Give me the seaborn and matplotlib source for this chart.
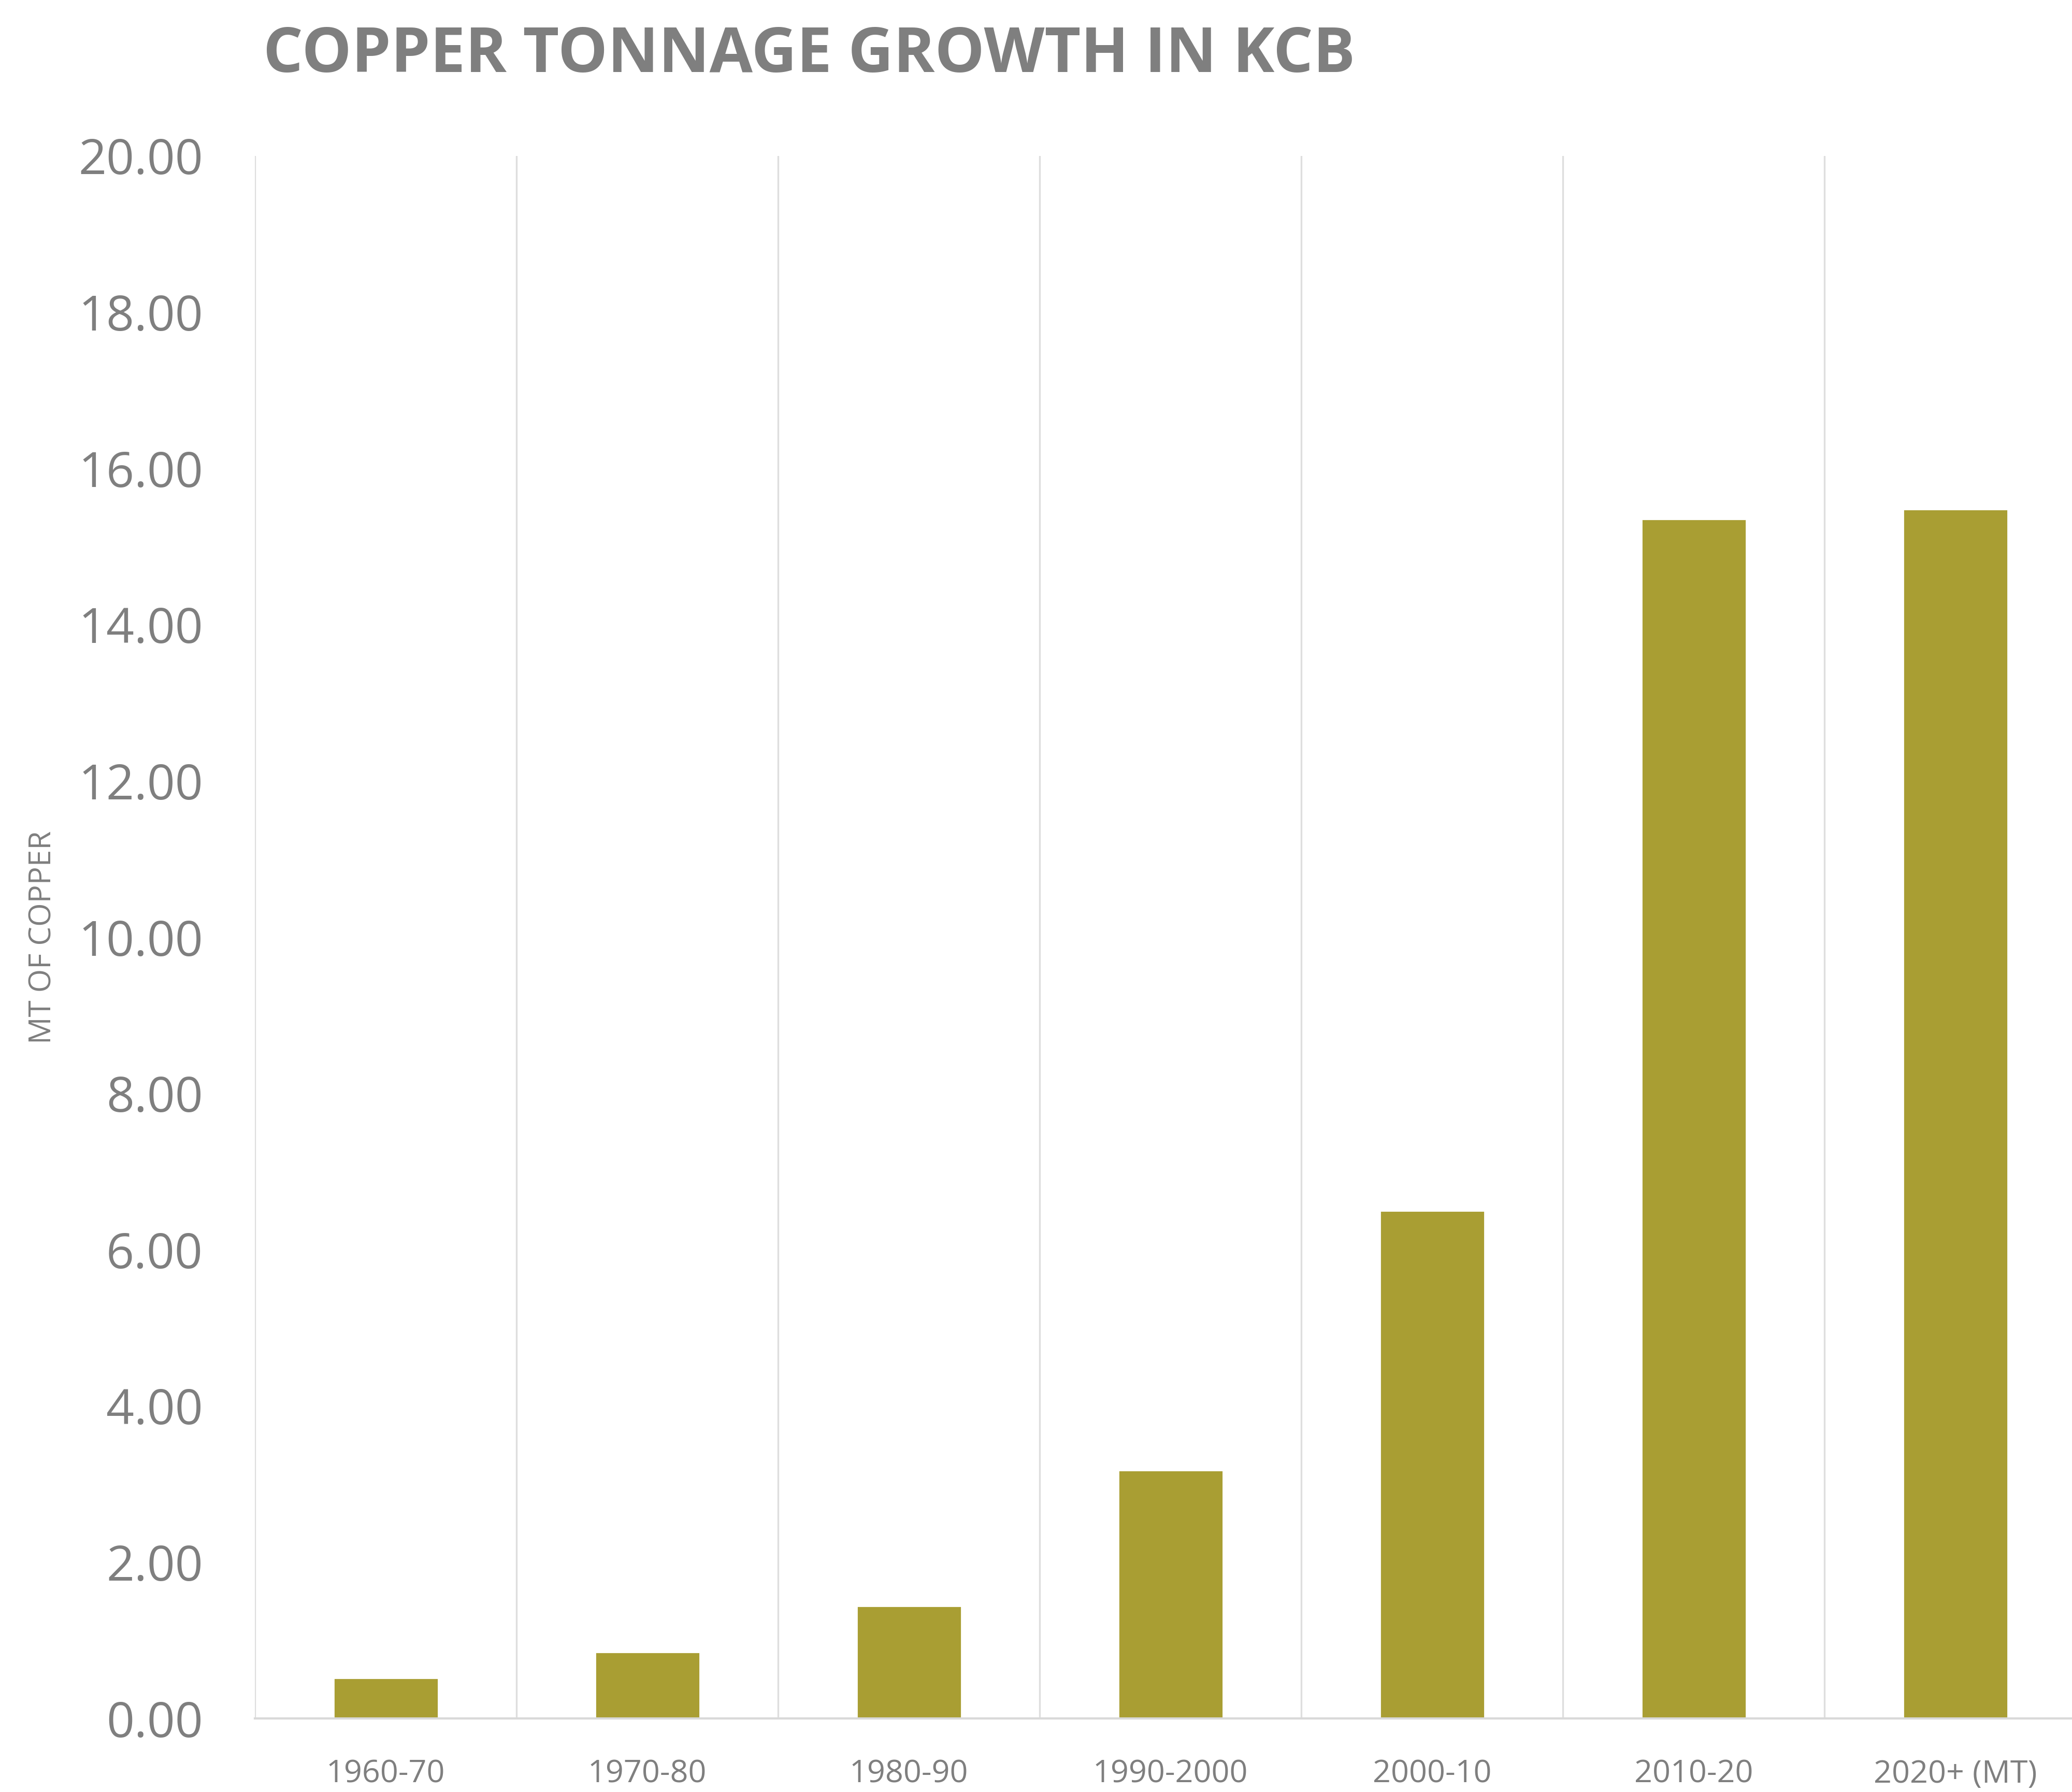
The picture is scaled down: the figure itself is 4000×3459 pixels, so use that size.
import matplotlib
matplotlib.use("Agg")
import matplotlib.pyplot as plt
import matplotlib.ticker as mticker
import numpy as np
import pandas as pd
import seaborn as sns

categories = ["1960-70", "1970-80", "1980-90", "1990-2000", "2000-10", "2010-20", "2020+ (MT)"]
copper_mt = [0.52, 0.85, 1.44, 3.18, 6.50, 15.35, 15.48]
y_ticks = [0, 2, 4, 6, 8, 10, 12, 14, 16, 18, 20]

title_text = "COPPER TONNAGE GROWTH IN KCB"
y_label = "MT OF COPPER"

bar_color = "#A99E33"
text_gray = "#7F7F7F"
grid_gray = "#DEDEDE"

sns.set_theme(style="white")
plt.rcParams["font.family"] = ["Open Sans", "DejaVu Sans"]

df = pd.DataFrame({"period": categories, "value": copper_mt})

fig = plt.figure(figsize=(20, 17.295), dpi=200)
ax = fig.add_axes([0.123, 0.041, 0.8838, 0.872])

sns.barplot(data=df, x="period", y="value", order=categories, color=bar_color,
            saturation=1, width=0.4, ax=ax, zorder=3)

ax.set_xlim(-0.5, len(categories) - 0.5)
ax.set_ylim(0, 20)
ax.set_yticks(y_ticks)
ax.yaxis.set_major_formatter(mticker.FuncFormatter(lambda v, p: f"{v:.2f}"))

# vertical gridlines at category boundaries
ax.xaxis.set_minor_locator(mticker.FixedLocator(np.arange(len(categories) + 1) - 0.5))
ax.grid(which="minor", axis="x", color=grid_gray, linewidth=1.2, zorder=0)
ax.grid(which="major", visible=False)

for s in ["top", "right", "left"]:
    ax.spines[s].set_visible(False)
ax.spines["bottom"].set_color("#D9D9D9")
ax.spines["bottom"].set_linewidth(1.5)
ax.spines["bottom"].set_zorder(4)

ax.tick_params(axis="y", length=0, pad=36, labelsize=34, labelcolor=text_gray)
ax.tick_params(axis="x", which="both", length=0, pad=28, labelsize=22, labelcolor=text_gray)

ax.set_xlabel("")
ax.set_ylabel(y_label, fontsize=21, color=text_gray)
ax.yaxis.set_label_coords(-0.1074, 0.5)

fig.text(0.127, 0.969, title_text, ha="left", va="center", fontsize=43.5,
         fontweight="bold", color=text_gray)

fig.savefig("out.png", dpi=200, facecolor="white")
